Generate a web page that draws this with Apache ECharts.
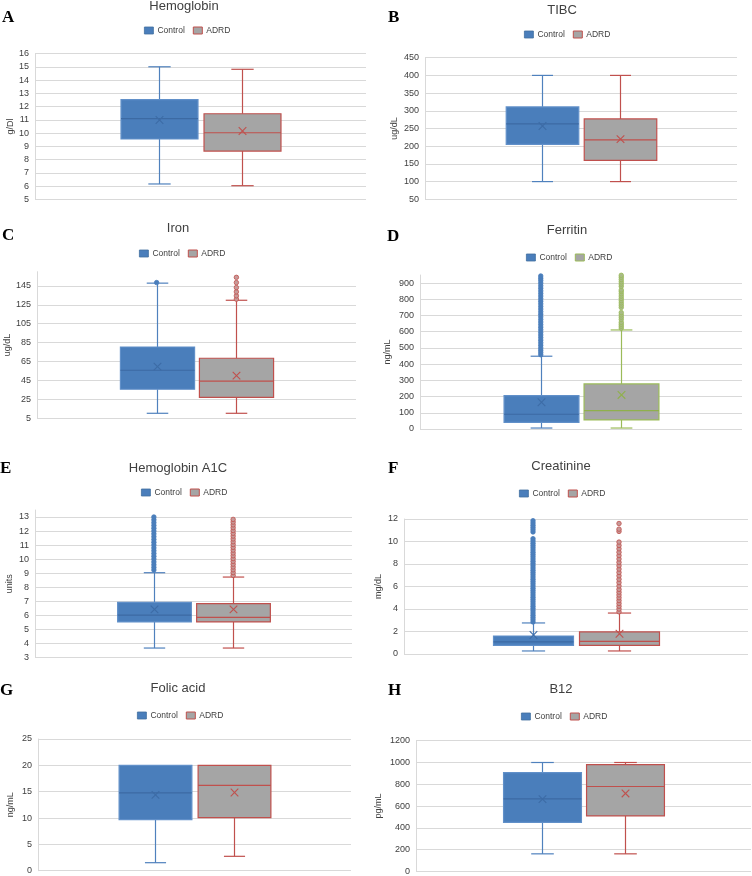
<!DOCTYPE html>
<html><head><meta charset="utf-8">
<script src="https://cdn.jsdelivr.net/npm/echarts@6/dist/echarts.min.js"></script>
<style>html,body{margin:0;padding:0;background:#fff}#c{width:752px;height:876px}</style>
</head><body><div id="c"></div>
<script>
// ---- data: [min, Q1, median, Q3, max(whisker), mean] ----
const groups = ['Control', 'ADRD'];
const hgbAxis = [5, 16, 1];
const hgbControl = [6.17, 9.56, 11.1, 12.52, 15.0, 10.99];
const hgbADRD = [6.04, 8.65, 10.03, 11.46, 14.81, 10.16];

const tibcAxis = [50, 450, 50];
const tibcControl = [100, 205, 263, 311, 400, 257];
const tibcADRD = [100, 160, 218, 277, 400, 220];

const ironAxis = [5, 160, 20];
const ironControl = [10.3, 35.7, 55.8, 80.4, 147.9, 59.6];
const ironADRD = [10.3, 27.2, 44.2, 68.5, 129.8, 50.1];
const ironControlOut = [148.5];
const ironADRDOut = [131, 134.5, 138.7, 143.2, 148.5, 154];

const ferAxis = [0, 950, 100];
const ferControl = [6, 41, 91, 206, 449, 165];
const ferADRD = [6, 56, 113, 278, 611, 210];
const ferControlOut = [458, 472, 486, 500, 516, 532, 548, 564, 580, 596, 612, 628, 644, 660, 676, 692, 708, 724, 740, 756, 772, 788, 804, 820, 836, 852, 868, 884, 900, 916, 930, 944];
const ferADRDOut = [622, 634, 646, 658, 676, 690, 704, 718, 750, 764, 778, 792, 806, 820, 834, 848, 858, 880, 894, 908, 922, 936, 948];

const a1cAxis = [3, 13.5, 1];
const a1cControl = [3.66, 5.52, 6.0, 6.92, 9.03, 6.42];
const a1cADRD = [3.66, 5.52, 5.85, 6.82, 8.72, 6.42];
const a1cControlOut = [9.22, 9.41, 9.6, 9.8, 10.0, 10.2, 10.4, 10.6, 10.8, 11.0, 11.2, 11.4, 11.6, 11.8, 12.0, 12.2, 12.4, 12.6, 12.8, 13.0];
const a1cADRDOut = [8.84, 9.04, 9.24, 9.44, 9.64, 9.84, 10.04, 10.24, 10.44, 10.64, 10.84, 11.04, 11.24, 11.44, 11.64, 11.84, 12.04, 12.24, 12.44, 12.64, 12.83];

const creAxis = [0, 12, 2];
const creControl = [0.27, 0.77, 1.07, 1.6, 2.76, 1.69];
const creADRD = [0.27, 0.77, 1.13, 1.96, 3.64, 1.8];
const creControlOut = [2.85, 3.05, 3.25, 3.45, 3.65, 3.85, 4.05, 4.25, 4.45, 4.65, 4.85, 5.05, 5.25, 5.45, 5.65, 5.85, 6.05, 6.25, 6.45, 6.65, 6.85, 7.05, 7.25, 7.45, 7.65, 7.85, 8.05, 8.25, 8.45, 8.65, 8.85, 9.05, 9.25, 9.45, 9.65, 9.85, 10.05, 10.25, 10.85, 11.05, 11.25, 11.45, 11.65, 11.85];
const creADRDOut = [3.75, 4.0, 4.25, 4.5, 4.75, 5.0, 5.25, 5.5, 5.75, 6.05, 6.35, 6.65, 6.95, 7.25, 7.55, 7.85, 8.15, 8.45, 8.75, 9.05, 9.35, 9.65, 9.95, 10.9, 11.1, 11.6];

const folAxis = [0, 25, 5];
const folControl = [1.52, 9.7, 14.77, 20, 20, 14.4];
const folADRD = [2.73, 10.06, 16.2, 20, 20, 14.85];

const b12Axis = [0, 1200, 200];
const b12Control = [162, 450, 667, 907, 1000, 664];
const b12ADRD = [162, 510, 780, 980, 1000, 716];

// ---- styles ----
const FONT = 'Liberation Sans';
const BLUE = {fill: '#4a7ebb', border: '#6190c9', median: '#3c6aa3', whisker: '#4f81bd', mean: '#3d6ca6', dot: '#4a7ebb', dotBorder: '#4a7ebb'};
const RED = {fill: '#a5a5a5', border: '#c0504d', median: '#c0504d', whisker: '#c0504d', mean: '#c0504d', dot: '#c79a99', dotBorder: '#c0504d'};
const GREEN = {fill: '#a5a5a5', border: '#9bbb59', median: '#8fb04c', whisker: '#9bbb59', mean: '#8fb04c', dot: '#a9bb86', dotBorder: '#9bbb59'};

const panels = [
  {letter: 'A', title: 'Hemoglobin', unit: 'g/Dl', axis: hgbAxis, ctrl: hgbControl, adrd: hgbADRD, cOut: [], aOut: [], a: RED,
   grid: {left: 35, top: 53.5, width: 331, height: 146}, tx: 184, ty: 0, lx: 144, ly: 26, Lx: 2, Ly: 18, gap: 20, maxLine: true},
  {letter: 'B', title: 'TIBC', unit: 'ug/dL', axis: tibcAxis, ctrl: tibcControl, adrd: tibcADRD, cOut: [], aOut: [], a: RED,
   grid: {left: 425, top: 57.7, width: 312, height: 141.6}, tx: 562, ty: 4, lx: 524, ly: 30, Lx: 388, Ly: 18, gap: 26, maxLine: true},
  {letter: 'C', title: 'Iron', unit: 'ug/dL', axis: ironAxis, ctrl: ironControl, adrd: ironADRD, cOut: ironControlOut, aOut: ironADRDOut, a: RED,
   grid: {left: 37, top: 271.7, width: 319, height: 146.6}, tx: 178, ty: 222, lx: 139, ly: 249, Lx: 2, Ly: 236, gap: 25, maxLine: false},
  {letter: 'D', title: 'Ferritin', unit: 'ng/mL', axis: ferAxis, ctrl: ferControl, adrd: ferADRD, cOut: ferControlOut, aOut: ferADRDOut, a: GREEN,
   grid: {left: 420, top: 275, width: 322, height: 154}, tx: 567, ty: 224, lx: 526, ly: 253, Lx: 387, Ly: 237, gap: 28, maxLine: false},
  {letter: 'E', title: 'Hemoglobin A1C', unit: 'units', axis: a1cAxis, ctrl: a1cControl, adrd: a1cADRD, cOut: a1cControlOut, aOut: a1cADRDOut, a: RED,
   grid: {left: 35, top: 510, width: 317, height: 147.3}, tx: 178, ty: 462, lx: 141, ly: 488, Lx: 0, Ly: 469, gap: 21, maxLine: false},
  {letter: 'F', title: 'Creatinine', unit: 'mg/dL', axis: creAxis, ctrl: creControl, adrd: creADRD, cOut: creControlOut, aOut: creADRDOut, a: RED,
   grid: {left: 404, top: 519, width: 344, height: 135}, tx: 561, ty: 460, lx: 519, ly: 489, Lx: 388, Ly: 469, gap: 21, maxLine: true},
  {letter: 'G', title: 'Folic acid', unit: 'ng/mL', axis: folAxis, ctrl: folControl, adrd: folADRD, cOut: [], aOut: [], a: RED,
   grid: {left: 38, top: 739, width: 313, height: 131.7}, tx: 178, ty: 682, lx: 137, ly: 711, Lx: 0, Ly: 691, gap: 23, maxLine: true},
  {letter: 'H', title: 'B12', unit: 'pg/mL', axis: b12Axis, ctrl: b12Control, adrd: b12ADRD, cOut: [], aOut: [], a: RED,
   grid: {left: 416, top: 740.7, width: 335, height: 131.3}, tx: 561, ty: 683, lx: 521, ly: 712, Lx: 388, Ly: 691, gap: 33, maxLine: true}
];

const cats = [' ', groups[0], groups[1], '  '];

function boxRenderer(st) {
  return function (params, api) {
    const x = api.value(0);
    const band = api.size([1, 0])[0];
    const bw = band * 0.93, cw = band * 0.27;
    const p = [1, 2, 3, 4, 5, 6].map(i => api.coord([x, api.value(i)]));
    const cx = Math.round(p[0][0]) + 0.5;
    const yMin = p[0][1], yQ1 = p[1][1], yMed = p[2][1], yQ3 = p[3][1], yMax = p[4][1], yMean = p[5][1];
    const wl = {stroke: st.whisker, lineWidth: 1.2};
    const ch = [];
    if (yMax < yQ3 - 0.5) {
      ch.push({type: 'line', shape: {x1: cx, y1: yQ3, x2: cx, y2: yMax}, style: wl});
      ch.push({type: 'line', shape: {x1: cx - cw / 2, y1: yMax, x2: cx + cw / 2, y2: yMax}, style: wl});
    }
    if (yMin > yQ1 + 0.5) {
      ch.push({type: 'line', shape: {x1: cx, y1: yQ1, x2: cx, y2: yMin}, style: wl});
      ch.push({type: 'line', shape: {x1: cx - cw / 2, y1: yMin, x2: cx + cw / 2, y2: yMin}, style: wl});
    }
    ch.push({type: 'rect', shape: {x: cx - bw / 2, y: yQ3, width: bw, height: yQ1 - yQ3},
      style: {fill: st.fill, stroke: st.border, lineWidth: 1.2}});
    ch.push({type: 'line', shape: {x1: cx - bw / 2, y1: yMed, x2: cx + bw / 2, y2: yMed}, style: {stroke: st.median, lineWidth: 1.2}});
    const s = 3.8;
    ch.push({type: 'line', shape: {x1: cx - s, y1: yMean - s, x2: cx + s, y2: yMean + s}, style: {stroke: st.mean, lineWidth: 1.1}});
    ch.push({type: 'line', shape: {x1: cx - s, y1: yMean + s, x2: cx + s, y2: yMean - s}, style: {stroke: st.mean, lineWidth: 1.1}});
    return {type: 'group', children: ch};
  };
}

const option = {
  animation: false,
  textStyle: {fontFamily: FONT},
  title: [], legend: [], grid: [], xAxis: [], yAxis: [], series: [], graphic: []
};

panels.forEach((pn, i) => {
  option.grid.push(Object.assign({}, pn.grid));
  option.title.push({text: pn.title, left: pn.tx, top: pn.ty, textAlign: 'center', padding: 0,
    textStyle: {fontFamily: FONT, fontSize: 13, fontWeight: 'normal', color: '#404040'}});
  option.graphic.push({type: 'text', left: pn.Lx, top: pn.Ly - 9, z: 10,
    style: {text: pn.letter, font: 'bold 17px "Liberation Serif"', fill: '#000'}});
  option.legend.push({
    left: pn.lx, top: pn.ly, padding: 0, itemWidth: 9, itemHeight: 7, itemGap: 8,
    icon: 'rect',
    textStyle: {fontFamily: FONT, fontSize: 8.5, color: '#404040', padding: [0, 0, 0, -1]},
    data: [
      {name: groups[0], itemStyle: {color: BLUE.fill, borderColor: '#41709f', borderWidth: 0.8}},
      {name: groups[1], itemStyle: {color: pn.a.fill, borderColor: pn.a.border, borderWidth: 1}}
    ],
    selectedMode: false
  });
  option.xAxis.push({type: 'category', gridIndex: i, data: cats, boundaryGap: true,
    axisLine: {show: false}, axisTick: {show: false}, axisLabel: {show: false}, splitLine: {show: false}});
  option.yAxis.push({type: 'value', gridIndex: i, min: pn.axis[0], max: pn.axis[1], interval: pn.axis[2],
    name: pn.unit, nameLocation: 'middle', nameRotate: 90, nameGap: pn.gap,
    nameTextStyle: {fontFamily: FONT, fontSize: 9, color: '#404040'},
    axisLine: {show: true, lineStyle: {color: '#d9d9d9', width: 1}}, axisTick: {show: false},
    axisLabel: {fontFamily: FONT, fontSize: 9, color: '#404040', margin: 6, showMaxLabel: pn.maxLine,
      formatter: v => String(v)},
    splitLine: {show: true, showMaxLine: pn.maxLine, lineStyle: {color: '#d9d9d9', width: 1}}});
  const sets = [[groups[0], pn.ctrl, pn.cOut, BLUE], [groups[1], pn.adrd, pn.aOut, pn.a]];
  sets.forEach(([g, vals, outs, st]) => {
    option.series.push({
      type: 'custom', name: g, xAxisIndex: i, yAxisIndex: i,
      itemStyle: {color: st.fill, borderColor: st.border},
      renderItem: boxRenderer(st),
      encode: {x: 0, y: [1, 2, 3, 4, 5, 6]},
      data: [[g].concat(vals)], z: 2
    });
    if (outs.length) {
      option.series.push({
        type: 'scatter', name: g, xAxisIndex: i, yAxisIndex: i, symbol: 'circle', symbolSize: 4.5,
        itemStyle: {color: st.dot, borderColor: st.dotBorder, borderWidth: 0.8, opacity: 1},
        data: outs.map(v => [g, v]), z: 3
      });
    }
  });
});

const chart = echarts.init(document.getElementById('c'), null, {renderer: 'canvas'});
chart.setOption(option);
</script>
</body></html>
